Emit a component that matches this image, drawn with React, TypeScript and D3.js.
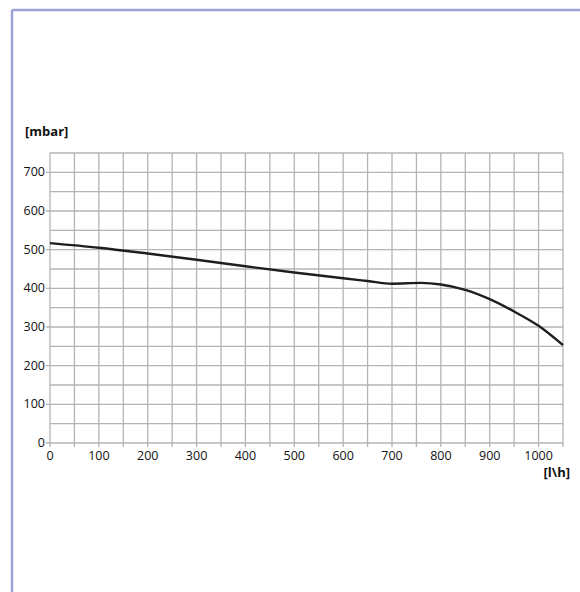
import React from 'react'
import * as d3 from 'd3'

// flow [l\h] vs pressure [mbar]
const flow = [0, 100, 200, 300, 400, 500, 600, 650, 700, 760, 800, 850, 900, 950, 1000, 1050]
const pressure = [517, 505, 490, 474, 457, 441, 426, 419, 412, 414, 410, 396, 372, 340, 303, 253]

const xTickLabels = [0, 100, 200, 300, 400, 500, 600, 700, 800, 900, 1000]
const yTickLabels = [0, 100, 200, 300, 400, 500, 600, 700]

const App = () => {
    const width = 580
    const height = 592
    const plot = { left: 50, right: 563, top: 153, bottom: 443 }

    const x = d3.scaleLinear().domain([0, 1050]).range([plot.left, plot.right])
    const y = d3.scaleLinear().domain([0, 750]).range([plot.bottom, plot.top])

    const gridX = d3.range(0, 1051, 50)
    const gridY = d3.range(0, 751, 50)

    const line = d3.line<number>()
        .x((d, i) => x(flow[i]))
        .y(d => y(d))
        .curve(d3.curveMonotoneX)

    const gridColor = '#b4b4b8'
    const font = '"Open Sans", "DejaVu Sans", sans-serif'

    return (
        <div style={{ position: 'absolute', left: 0, top: 0 }}>
            <svg width={width} height={height} style={{ display: 'block' }}>
                <rect x={0} y={0} width={width} height={height} fill="#fff" />
                {/* outer frame, clipped by the window */}
                <line x1={12} y1={10} x2={width} y2={10} stroke="#9aa2d8" strokeWidth={2.5} />
                <line x1={12} y1={10} x2={12} y2={height} stroke="#9aa2d8" strokeWidth={2.5} />

                {gridX.map(v => (
                    <line key={`gx${v}`} x1={x(v)} x2={x(v)} y1={plot.top} y2={plot.bottom + 4}
                          stroke={gridColor} strokeWidth={1.3} />
                ))}
                {gridY.map(v => (
                    <line key={`gy${v}`} x1={v % 100 === 0 ? plot.left - 4 : plot.left} x2={plot.right}
                          y1={y(v)} y2={y(v)} stroke={gridColor} strokeWidth={1.3} />
                ))}

                {yTickLabels.map(v => (
                    <text key={`yl${v}`} x={plot.left - 5} y={y(v) + 4} textAnchor="end"
                          fontFamily={font} fontSize={12.5} fill="#111">{v}</text>
                ))}
                {xTickLabels.map(v => (
                    <text key={`xl${v}`} x={x(v)} y={plot.bottom + 17} textAnchor="middle"
                          fontFamily={font} fontSize={12.5} fill="#111">{v}</text>
                ))}

                <text x={25} y={136} fontFamily={font} fontSize={13} fontWeight="bold" fill="#111">[mbar]</text>
                <text x={570} y={477} textAnchor="end" fontFamily={font} fontSize={13} fontWeight="bold" fill="#111">[l\h]</text>

                <path d={line(pressure) || ''} fill="none" stroke="#1e1e1e" strokeWidth={2.4} />
            </svg>
        </div>
    )
}

export default App
